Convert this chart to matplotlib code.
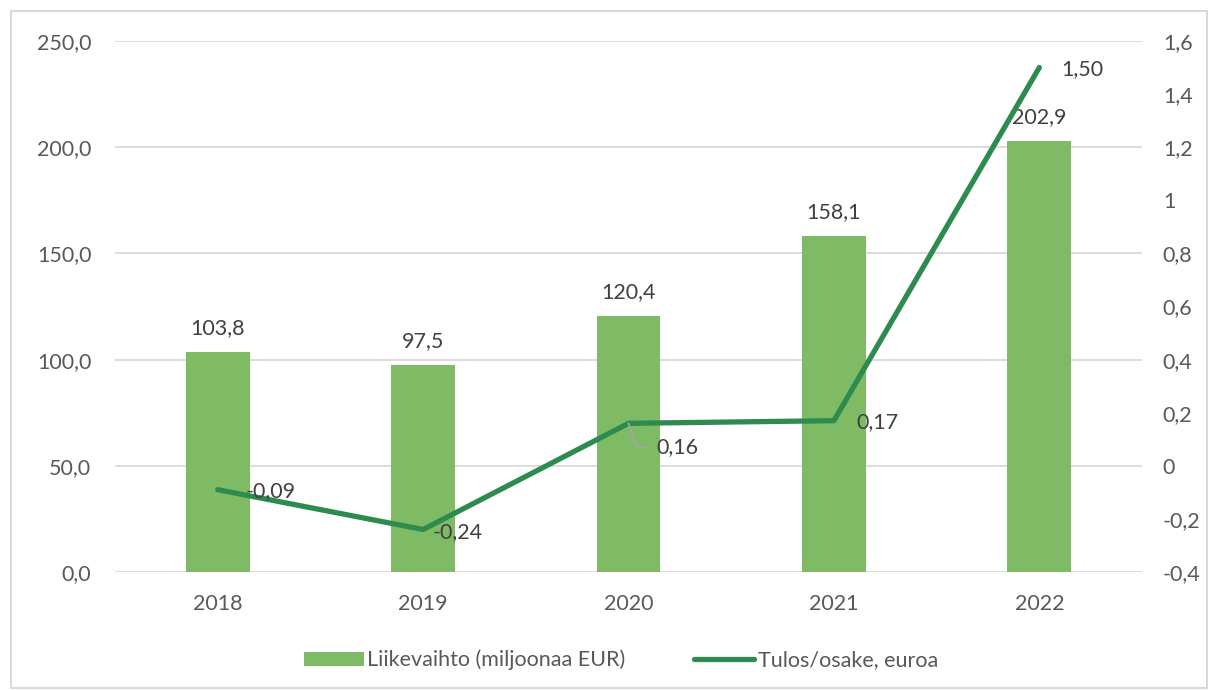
import matplotlib
matplotlib.use("Agg")
import matplotlib.pyplot as plt
from matplotlib.patches import Rectangle
from matplotlib.lines import Line2D

years = ["2018", "2019", "2020", "2021", "2022"]
revenue = [103.8, 97.5, 120.4, 158.1, 202.9]
eps = [-0.09, -0.24, 0.16, 0.17, 1.50]
left_ticks = [0, 50, 100, 150, 200, 250]
right_ticks = [-0.4, -0.2, 0, 0.2, 0.4, 0.6, 0.8, 1.0, 1.2, 1.4, 1.6]

bar_color = "#7FBB64"
line_color = "#2E8B50"
text_color = "#595959"
label_color = "#404040"
fs = 15.5

plt.rcParams['font.family'] = ['Lato', 'DejaVu Sans']

fig = plt.figure(figsize=(12.1, 6.9), dpi=100)
fig.patches.append(Rectangle((11/1210, 2/690), 1196/1210, 677/690, transform=fig.transFigure,
                             fill=False, edgecolor="#D9D9D9", linewidth=1.5))
ax = fig.add_axes([115/1210, 1 - 572/690, 1027/1210, 531/690])
x = list(range(len(years)))
ax.bar(x, revenue, width=0.31, color=bar_color, zorder=2, label="Liikevaihto (miljoonaa EUR)")
ax.set_xlim(-0.5, 4.5)
ax.set_ylim(0, 250)
ax.set_yticks(left_ticks)
ax.set_yticklabels([f"{v:.1f}".replace(".", ",") for v in left_ticks])
ax.set_xticks(x)
ax.set_xticklabels(years)
ax.grid(axis="y", color="#D9D9D9", linewidth=1.3, zorder=0)
ax.set_axisbelow(True)
for s in ax.spines.values():
    s.set_visible(False)
ax.tick_params(length=0, colors=text_color, labelsize=fs)
ax.tick_params(axis="x", pad=16)
ax.tick_params(axis="y", pad=17)

for xi, v in zip(x, revenue):
    ax.annotate(f"{v:.1f}".replace(".", ","), (xi, v), xytext=(0, 10), textcoords="offset points",
                ha="center", va="bottom", color=label_color, fontsize=fs)

ax2 = ax.twinx()
ax2.set_ylim(-0.4, 1.6)
ax2.set_yticks(right_ticks)
def fmt(v):
    s = f"{v:.1f}"
    if s.endswith(".0"):
        s = s[:-2]
    if s == "-0":
        s = "0"
    return s.replace(".", ",")
ax2.set_yticklabels([fmt(v) for v in right_ticks])
for s in ax2.spines.values():
    s.set_visible(False)
ax2.tick_params(length=0, colors=text_color, labelsize=fs, pad=15)
ax2.plot(x, eps, color=line_color, linewidth=3.8, solid_capstyle="round", zorder=3,
         label="Tulos/osake, euroa")

offsets = [(20, -1), (7, -2), (20, -17), (16.5, -1), (16, -1)]
for xi, v, (dx, dy) in zip(x, eps, offsets):
    ax2.annotate(f"{v:.2f}".replace(".", ","), (xi, v), xytext=(dx, dy), textcoords="offset points",
                 ha="left", va="center", color=label_color, fontsize=fs)

# leader line for 2020 label (pixel offsets from the data point)
px, py = ax2.transData.transform((2, eps[2]))
fig.lines.append(Line2D([px, px + 8, px + 20], [py, py - 24, py - 24], transform=None,
                        color="#A6A6A6", linewidth=1.2, zorder=2))

h1, l1 = ax.get_legend_handles_labels()
h2, l2 = ax2.get_legend_handles_labels()
fig.legend(h1 + h2, l1 + l2, loc="center", bbox_to_anchor=(0.513, 1 - 660/690), ncol=2,
           frameon=False, fontsize=fs, labelcolor=text_color, handlelength=2.8,
           handletextpad=0.15, columnspacing=3.2, handleheight=0.6)

fig.savefig("out.png", dpi=100)
